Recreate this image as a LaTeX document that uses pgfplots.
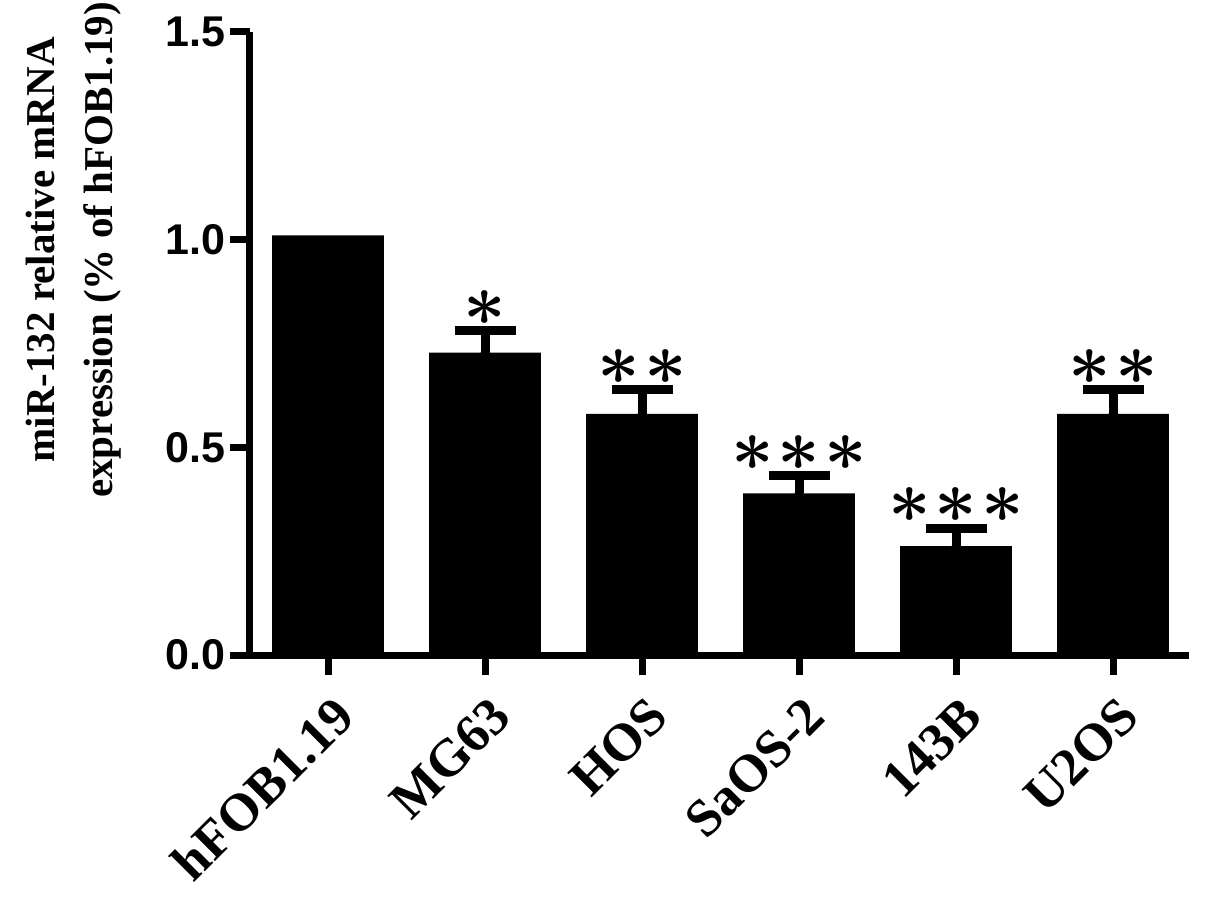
\documentclass[border=0pt]{standalone}
\usepackage{fix-cm}
\usepackage{fontspec}
\setmainfont{Liberation Serif}
\newfontfamily\sansfont{Liberation Sans}
\usepackage{pgfplots}
\pgfplotsset{compat=1.18}
\newcommand{\st}{\ensuremath{\ast}}
\begin{document}
\begin{tikzpicture}
\path[use as bounding box] (-125pt,-120.5pt) rectangle (477.5pt,327.5pt);
\begin{axis}[
  at={(0,0)}, anchor=south west,
  scale only axis,
  width=469.5pt, height=311.65pt,
  xmin=-0.497, xmax=5.484,
  ymin=0, ymax=1.5,
  axis lines=left,
  axis line style={line width=3.5pt, -},
  tick align=outside,
  major tick length=10pt,
  tick style={line width=3.5pt, black},
  xtick={0,1,2,3,4,5},
  xticklabels={hFOB1.19,MG63,HOS,SaOS-2,143B,U2OS},
  ytick={0,0.5,1,1.5},
  yticklabel style={font=\sansfont\bfseries\fontsize{21.5}{21.5}\selectfont, inner sep=2pt,
    /pgf/number format/fixed, /pgf/number format/fixed zerofill, /pgf/number format/precision=1,
    /pgf/number format/assume math mode=true},
  xticklabel style={rotate=45, anchor=east, font=\bfseries\fontsize{26.5}{26.5}\selectfont, inner sep=1pt,
    xshift=-4.5pt, yshift=-17pt},
  ylabel={miR-132 relative mRNA\\expression (\% of hFOB1.19)},
  ylabel style={align=center, font=\bfseries\fontsize{20.5}{29}\selectfont, inner sep=0pt,
    at={(axis description cs:-0.1363,0.65)}, anchor=south},
  clip=false,
]
\addplot[ybar, bar width=0.713, bar shift=0pt, fill=black, draw=none]
  coordinates {(0,1.01) (1,0.728) (2,0.580) (3,0.389) (4,0.262) (5,0.580)};
\addplot[only marks, mark=none,
  error bars/.cd, y dir=plus, y explicit,
  error bar style={draw=black, line width=4.5pt},
  error mark options={rotate=90, mark size=15.25pt, line width=4.5pt, draw=black}]
  coordinates {(1,0.728) +- (0,0.053) (2,0.580) +- (0,0.059) (3,0.389) +- (0,0.043) (4,0.262) +- (0,0.043) (5,0.580) +- (0,0.059)};
\addplot[draw=none, mark=none, nodes near coords, point meta=explicit symbolic,
  nodes near coords style={anchor=south, inner sep=0pt, yshift=2.5pt, text=black,
    font=\fontsize{37}{37}\selectfont\boldmath}]
  coordinates {(1,0.781) [\st] (2,0.639) [\st\kern2pt\st] (3,0.432) [\st\kern2pt\st\kern2pt\st] (4,0.305) [\st\kern2pt\st\kern2pt\st] (5,0.639) [\st\kern2pt\st]};
\end{axis}
\end{tikzpicture}
\end{document}
